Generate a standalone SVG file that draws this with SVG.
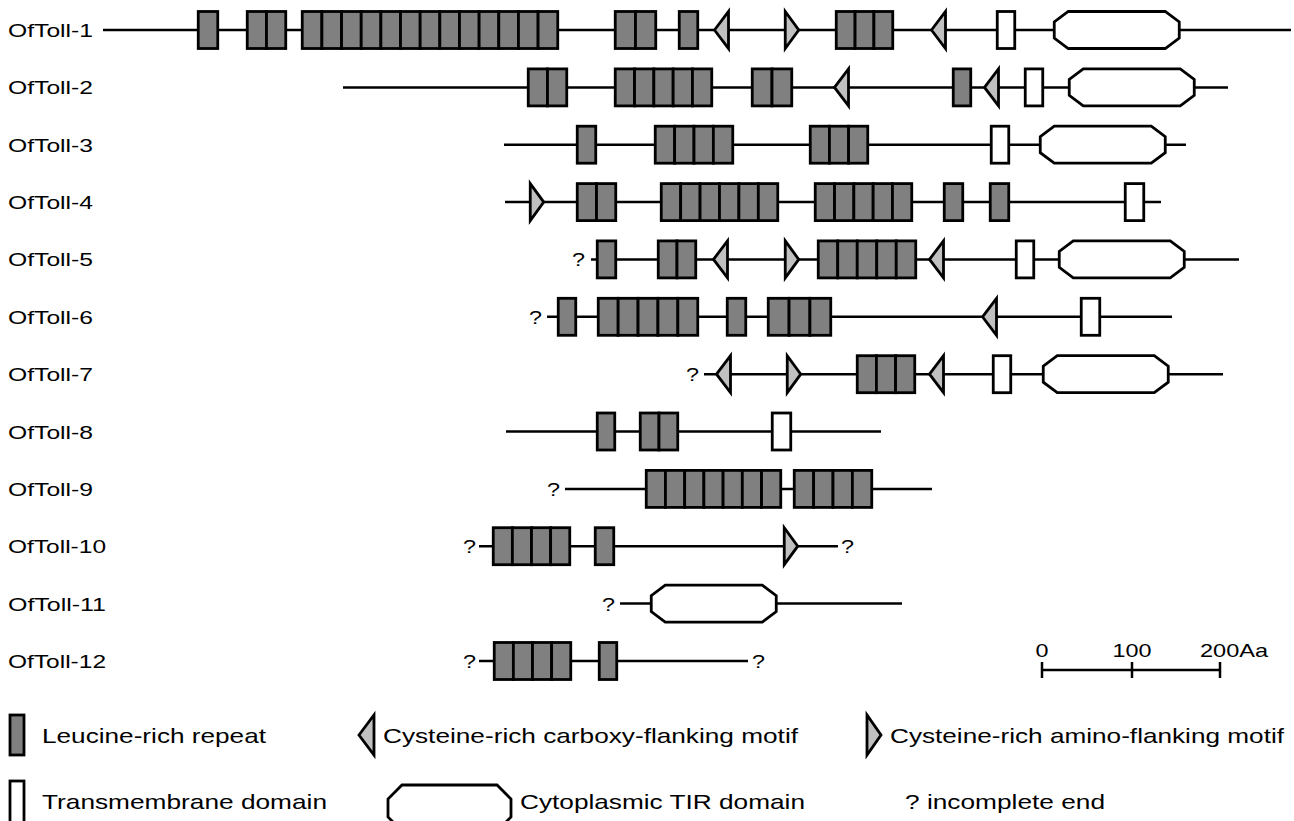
<svg xmlns="http://www.w3.org/2000/svg" xmlns:xlink="http://www.w3.org/1999/xlink" width="1294" height="821" viewBox="0 0 1294 821">
<style>
.bg{fill:#ffffff}
.ln{stroke:#000;stroke-width:2.5;fill:none}
.lrr{fill:#808080;stroke:#000;stroke-width:2.8}
.cys{fill:#c0c0c0;stroke:#000;stroke-width:2.8;stroke-linejoin:miter}
.tm{fill:#ffffff;stroke:#000;stroke-width:2.8}
.tir{fill:#ffffff;stroke:#000;stroke-width:2.8}
.lab{font-family:"Liberation Sans",Arial,sans-serif;font-size:19px;fill:#000}
.q{font-family:"Liberation Sans",Arial,sans-serif;font-size:18px;fill:#000}
.leg{font-family:"Liberation Sans",Arial,sans-serif;font-size:21px;fill:#000}
</style>
<defs>
<polygon id="tirShape" class="tir" points="14,-18.5 111,-18.5 125,-8 125,8 111,18.5 14,18.5 0,8 0,-8"/>
<polygon id="cysC" class="cys" points="0,0 14,-18.5 14,18.5"/>
<polygon id="cysN" class="cys" points="0,-18.5 0,18.5 13.5,0"/>
</defs>
<rect class="bg" x="0" y="0" width="1294" height="821"/>

<g id="connectors">
<line class="ln" x1="103" y1="30" x2="1291" y2="30"/>
<line class="ln" x1="343" y1="87.4" x2="1228" y2="87.4"/>
<line class="ln" x1="504" y1="144.7" x2="1186" y2="144.7"/>
<line class="ln" x1="505" y1="202.1" x2="1161" y2="202.1"/>
<line class="ln" x1="591" y1="259.4" x2="1239" y2="259.4"/>
<line class="ln" x1="547" y1="316.8" x2="1172" y2="316.8"/>
<line class="ln" x1="704" y1="374.2" x2="1223" y2="374.2"/>
<line class="ln" x1="506" y1="431.5" x2="881" y2="431.5"/>
<line class="ln" x1="565" y1="488.9" x2="932" y2="488.9"/>
<line class="ln" x1="479" y1="546.2" x2="838" y2="546.2"/>
<line class="ln" x1="620" y1="603.6" x2="902" y2="603.6"/>
<line class="ln" x1="479" y1="661" x2="748" y2="661"/>
<line class="ln" x1="1042" y1="670" x2="1220" y2="670"/>
<line class="ln" x1="1042" y1="662" x2="1042" y2="678"/>
<line class="ln" x1="1132" y1="662" x2="1132" y2="678"/>
<line class="ln" x1="1220" y1="662" x2="1220" y2="678"/>
</g>

<g id="oftoll-1">
<text class="lab" x="8" y="37" textLength="85" lengthAdjust="spacingAndGlyphs">OfToll-1</text>
<g transform="translate(0,11.5)">
<rect class="lrr" x="198.25" y="0" width="19.5" height="37"/>
<rect class="lrr" x="247.25" y="0" width="19.25" height="37"/>
<rect class="lrr" x="266.5" y="0" width="19.25" height="37"/>
<rect class="lrr" x="302.25" y="0" width="19.65" height="37"/>
<rect class="lrr" x="321.9" y="0" width="19.65" height="37"/>
<rect class="lrr" x="341.56" y="0" width="19.65" height="37"/>
<rect class="lrr" x="361.21" y="0" width="19.65" height="37"/>
<rect class="lrr" x="380.87" y="0" width="19.65" height="37"/>
<rect class="lrr" x="400.52" y="0" width="19.65" height="37"/>
<rect class="lrr" x="420.17" y="0" width="19.65" height="37"/>
<rect class="lrr" x="439.83" y="0" width="19.65" height="37"/>
<rect class="lrr" x="459.48" y="0" width="19.65" height="37"/>
<rect class="lrr" x="479.13" y="0" width="19.65" height="37"/>
<rect class="lrr" x="498.79" y="0" width="19.65" height="37"/>
<rect class="lrr" x="518.44" y="0" width="19.65" height="37"/>
<rect class="lrr" x="538.1" y="0" width="19.65" height="37"/>
<rect class="lrr" x="615.25" y="0" width="20.25" height="37"/>
<rect class="lrr" x="635.5" y="0" width="20.25" height="37"/>
<rect class="lrr" x="679.25" y="0" width="18.5" height="37"/>
<rect class="lrr" x="836.25" y="0" width="18.83" height="37"/>
<rect class="lrr" x="855.08" y="0" width="18.83" height="37"/>
<rect class="lrr" x="873.92" y="0" width="18.83" height="37"/>
<rect class="tm" x="997.25" y="0" width="17.5" height="37"/>
</g>
<use xlink:href="#cysC" x="714.5" y="30"/>
<use xlink:href="#cysN" x="785.25" y="30"/>
<use xlink:href="#cysC" x="931.5" y="30"/>
<use xlink:href="#tirShape" x="1054.25" y="30"/>
</g>

<g id="oftoll-2">
<text class="lab" x="8" y="94.4" textLength="85" lengthAdjust="spacingAndGlyphs">OfToll-2</text>
<g transform="translate(0,68.9)">
<rect class="lrr" x="528.25" y="0" width="19.25" height="37"/>
<rect class="lrr" x="547.5" y="0" width="19.25" height="37"/>
<rect class="lrr" x="615.25" y="0" width="19.3" height="37"/>
<rect class="lrr" x="634.55" y="0" width="19.3" height="37"/>
<rect class="lrr" x="653.85" y="0" width="19.3" height="37"/>
<rect class="lrr" x="673.15" y="0" width="19.3" height="37"/>
<rect class="lrr" x="692.45" y="0" width="19.3" height="37"/>
<rect class="lrr" x="752.25" y="0" width="19.75" height="37"/>
<rect class="lrr" x="772" y="0" width="19.75" height="37"/>
<rect class="lrr" x="953.25" y="0" width="17.5" height="37"/>
<rect class="tm" x="1025.25" y="0" width="17.5" height="37"/>
</g>
<use xlink:href="#cysC" x="834.5" y="87.4"/>
<use xlink:href="#cysC" x="984.5" y="87.4"/>
<use xlink:href="#tirShape" x="1069.25" y="87.4"/>
</g>

<g id="oftoll-3">
<text class="lab" x="8" y="151.7" textLength="85" lengthAdjust="spacingAndGlyphs">OfToll-3</text>
<g transform="translate(0,126.2)">
<rect class="lrr" x="577.25" y="0" width="18.5" height="37"/>
<rect class="lrr" x="655.25" y="0" width="19.38" height="37"/>
<rect class="lrr" x="674.63" y="0" width="19.38" height="37"/>
<rect class="lrr" x="694" y="0" width="19.38" height="37"/>
<rect class="lrr" x="713.38" y="0" width="19.38" height="37"/>
<rect class="lrr" x="810.25" y="0" width="19.17" height="37"/>
<rect class="lrr" x="829.42" y="0" width="19.17" height="37"/>
<rect class="lrr" x="848.58" y="0" width="19.17" height="37"/>
<rect class="tm" x="991.25" y="0" width="17.5" height="37"/>
</g>
<use xlink:href="#tirShape" x="1040.25" y="144.7"/>
</g>

<g id="oftoll-4">
<text class="lab" x="8" y="209.1" textLength="85" lengthAdjust="spacingAndGlyphs">OfToll-4</text>
<use xlink:href="#cysN" x="530.25" y="202.1"/>
<g transform="translate(0,183.6)">
<rect class="lrr" x="577.25" y="0" width="19.25" height="37"/>
<rect class="lrr" x="596.5" y="0" width="19.25" height="37"/>
<rect class="lrr" x="661.25" y="0" width="19.42" height="37"/>
<rect class="lrr" x="680.67" y="0" width="19.42" height="37"/>
<rect class="lrr" x="700.08" y="0" width="19.42" height="37"/>
<rect class="lrr" x="719.5" y="0" width="19.42" height="37"/>
<rect class="lrr" x="738.92" y="0" width="19.42" height="37"/>
<rect class="lrr" x="758.33" y="0" width="19.42" height="37"/>
<rect class="lrr" x="815.25" y="0" width="19.3" height="37"/>
<rect class="lrr" x="834.55" y="0" width="19.3" height="37"/>
<rect class="lrr" x="853.85" y="0" width="19.3" height="37"/>
<rect class="lrr" x="873.15" y="0" width="19.3" height="37"/>
<rect class="lrr" x="892.45" y="0" width="19.3" height="37"/>
<rect class="lrr" x="944.25" y="0" width="18.5" height="37"/>
<rect class="lrr" x="990.25" y="0" width="18.5" height="37"/>
<rect class="tm" x="1125.25" y="0" width="18.5" height="37"/>
</g>
</g>

<g id="oftoll-5">
<text class="lab" x="8" y="266.4" textLength="85" lengthAdjust="spacingAndGlyphs">OfToll-5</text>
<text class="q" x="572" y="266.4" textLength="13" lengthAdjust="spacingAndGlyphs">?</text>
<g transform="translate(0,240.9)">
<rect class="lrr" x="597.25" y="0" width="18.5" height="37"/>
<rect class="lrr" x="658.25" y="0" width="18.75" height="37"/>
<rect class="lrr" x="677" y="0" width="18.75" height="37"/>
<rect class="lrr" x="818.25" y="0" width="19.5" height="37"/>
<rect class="lrr" x="837.75" y="0" width="19.5" height="37"/>
<rect class="lrr" x="857.25" y="0" width="19.5" height="37"/>
<rect class="lrr" x="876.75" y="0" width="19.5" height="37"/>
<rect class="lrr" x="896.25" y="0" width="19.5" height="37"/>
<rect class="tm" x="1016.25" y="0" width="17.5" height="37"/>
</g>
<use xlink:href="#cysC" x="713.5" y="259.4"/>
<use xlink:href="#cysN" x="785.25" y="259.4"/>
<use xlink:href="#cysC" x="929.5" y="259.4"/>
<use xlink:href="#tirShape" x="1059.25" y="259.4"/>
</g>

<g id="oftoll-6">
<text class="lab" x="8" y="323.8" textLength="85" lengthAdjust="spacingAndGlyphs">OfToll-6</text>
<text class="q" x="529" y="323.8" textLength="13" lengthAdjust="spacingAndGlyphs">?</text>
<g transform="translate(0,298.3)">
<rect class="lrr" x="558.25" y="0" width="17.5" height="37"/>
<rect class="lrr" x="598.25" y="0" width="19.9" height="37"/>
<rect class="lrr" x="618.15" y="0" width="19.9" height="37"/>
<rect class="lrr" x="638.05" y="0" width="19.9" height="37"/>
<rect class="lrr" x="657.95" y="0" width="19.9" height="37"/>
<rect class="lrr" x="677.85" y="0" width="19.9" height="37"/>
<rect class="lrr" x="727.25" y="0" width="18.5" height="37"/>
<rect class="lrr" x="768.25" y="0" width="20.83" height="37"/>
<rect class="lrr" x="789.08" y="0" width="20.83" height="37"/>
<rect class="lrr" x="809.92" y="0" width="20.83" height="37"/>
<rect class="tm" x="1081.25" y="0" width="18.5" height="37"/>
</g>
<use xlink:href="#cysC" x="982.5" y="316.8"/>
</g>

<g id="oftoll-7">
<text class="lab" x="8" y="381.2" textLength="85" lengthAdjust="spacingAndGlyphs">OfToll-7</text>
<text class="q" x="686" y="381.2" textLength="13" lengthAdjust="spacingAndGlyphs">?</text>
<g transform="translate(0,355.7)">
<rect class="lrr" x="857.25" y="0" width="19.17" height="37"/>
<rect class="lrr" x="876.42" y="0" width="19.17" height="37"/>
<rect class="lrr" x="895.58" y="0" width="19.17" height="37"/>
<rect class="tm" x="993.25" y="0" width="17.5" height="37"/>
</g>
<use xlink:href="#cysC" x="716.5" y="374.2"/>
<use xlink:href="#cysN" x="787.25" y="374.2"/>
<use xlink:href="#cysC" x="929.5" y="374.2"/>
<use xlink:href="#tirShape" x="1043.25" y="374.2"/>
</g>

<g id="oftoll-8">
<text class="lab" x="8" y="438.5" textLength="85" lengthAdjust="spacingAndGlyphs">OfToll-8</text>
<g transform="translate(0,413)">
<rect class="lrr" x="597.25" y="0" width="17.5" height="37"/>
<rect class="lrr" x="640.25" y="0" width="18.75" height="37"/>
<rect class="lrr" x="659" y="0" width="18.75" height="37"/>
<rect class="tm" x="772.25" y="0" width="18.5" height="37"/>
</g>
</g>

<g id="oftoll-9">
<text class="lab" x="8" y="495.9" textLength="85" lengthAdjust="spacingAndGlyphs">OfToll-9</text>
<text class="q" x="547" y="495.9" textLength="13" lengthAdjust="spacingAndGlyphs">?</text>
<g transform="translate(0,470.4)">
<rect class="lrr" x="646.25" y="0" width="19.21" height="37"/>
<rect class="lrr" x="665.46" y="0" width="19.21" height="37"/>
<rect class="lrr" x="684.68" y="0" width="19.21" height="37"/>
<rect class="lrr" x="703.89" y="0" width="19.21" height="37"/>
<rect class="lrr" x="723.11" y="0" width="19.21" height="37"/>
<rect class="lrr" x="742.32" y="0" width="19.21" height="37"/>
<rect class="lrr" x="761.54" y="0" width="19.21" height="37"/>
<rect class="lrr" x="794.25" y="0" width="19.38" height="37"/>
<rect class="lrr" x="813.63" y="0" width="19.38" height="37"/>
<rect class="lrr" x="833" y="0" width="19.38" height="37"/>
<rect class="lrr" x="852.38" y="0" width="19.38" height="37"/>
</g>
</g>

<g id="oftoll-10">
<text class="lab" x="8" y="553.2" textLength="98" lengthAdjust="spacingAndGlyphs">OfToll-10</text>
<text class="q" x="463" y="553.2" textLength="13" lengthAdjust="spacingAndGlyphs">?</text>
<text class="q" x="841" y="553.2" textLength="13" lengthAdjust="spacingAndGlyphs">?</text>
<g transform="translate(0,527.7)">
<rect class="lrr" x="493.25" y="0" width="19.13" height="37"/>
<rect class="lrr" x="512.38" y="0" width="19.13" height="37"/>
<rect class="lrr" x="531.5" y="0" width="19.13" height="37"/>
<rect class="lrr" x="550.63" y="0" width="19.13" height="37"/>
<rect class="lrr" x="595.25" y="0" width="18.5" height="37"/>
</g>
<use xlink:href="#cysN" x="784.25" y="546.2"/>
</g>

<g id="oftoll-11">
<text class="lab" x="8" y="610.6" textLength="98" lengthAdjust="spacingAndGlyphs">OfToll-11</text>
<text class="q" x="602" y="610.6" textLength="13" lengthAdjust="spacingAndGlyphs">?</text>
<use xlink:href="#tirShape" x="651.25" y="603.6"/>
</g>

<g id="oftoll-12">
<text class="lab" x="8" y="668" textLength="98" lengthAdjust="spacingAndGlyphs">OfToll-12</text>
<text class="q" x="463" y="668" textLength="13" lengthAdjust="spacingAndGlyphs">?</text>
<text class="q" x="752" y="668" textLength="13" lengthAdjust="spacingAndGlyphs">?</text>
<g transform="translate(0,642.5)">
<rect class="lrr" x="494.25" y="0" width="19.13" height="37"/>
<rect class="lrr" x="513.38" y="0" width="19.13" height="37"/>
<rect class="lrr" x="532.5" y="0" width="19.13" height="37"/>
<rect class="lrr" x="551.63" y="0" width="19.13" height="37"/>
<rect class="lrr" x="599.25" y="0" width="17.5" height="37"/>
</g>
</g>

<g id="scale-bar">
<text class="lab" x="1042" y="657" text-anchor="middle" textLength="13" lengthAdjust="spacingAndGlyphs">0</text>
<text class="lab" x="1132" y="657" text-anchor="middle" textLength="39" lengthAdjust="spacingAndGlyphs">100</text>
<text class="lab" x="1200" y="657" textLength="68" lengthAdjust="spacingAndGlyphs">200Aa</text>
</g>

<g id="legend">
<rect class="lrr" x="10" y="715" width="14" height="40"/>
<text class="leg" x="42" y="743" textLength="224" lengthAdjust="spacingAndGlyphs">Leucine-rich repeat</text>
<polygon class="cys" points="359,735 374,715 374,755"/>
<text class="leg" x="383" y="743" textLength="415" lengthAdjust="spacingAndGlyphs">Cysteine-rich carboxy-flanking motif</text>
<polygon class="cys" points="867,715 867,755 881,735"/>
<text class="leg" x="890" y="743" textLength="394" lengthAdjust="spacingAndGlyphs">Cysteine-rich amino-flanking motif</text>
<rect class="tm" x="10" y="781" width="14" height="50"/>
<text class="leg" x="42" y="809" textLength="285" lengthAdjust="spacingAndGlyphs">Transmembrane domain</text>
<polygon class="tir" points="402,785 497,785 511,799 511,817 497,831 402,831 388,817 388,799"/>
<text class="leg" x="520" y="809" textLength="285" lengthAdjust="spacingAndGlyphs">Cytoplasmic TIR domain</text>
<text class="leg" x="905" y="809" textLength="200" lengthAdjust="spacingAndGlyphs">? incomplete end</text>
</g>
</svg>
